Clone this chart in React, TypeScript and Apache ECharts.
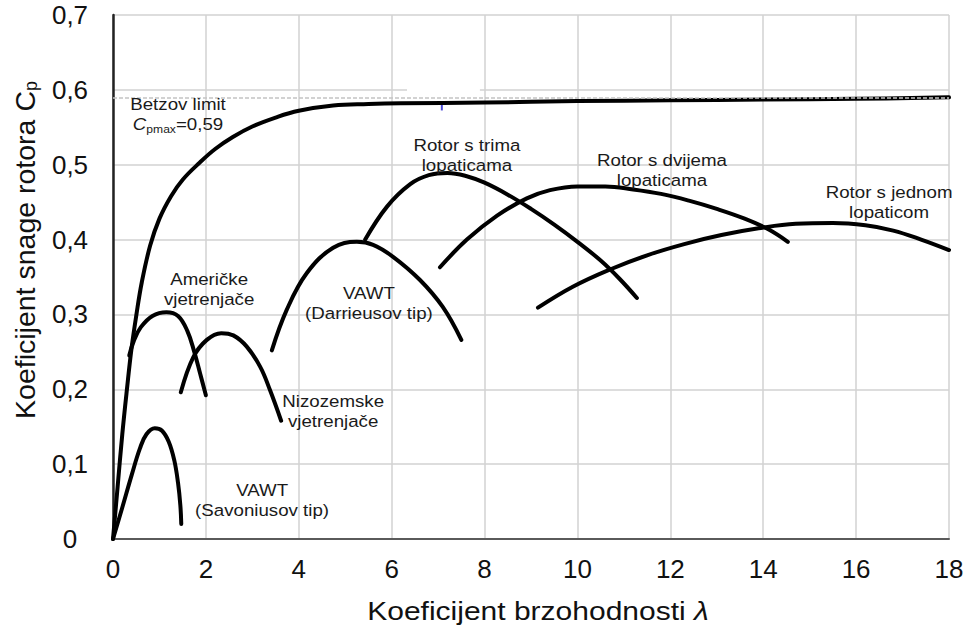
import React, { useEffect, useRef } from "react";
import * as echarts from "echarts";

// ---------- data ----------
const xTickInterval = 2;
const yTickInterval = 0.1;
const betzLimit = 0.593;

const idealRotor: [number, number][] = [
  [0, 0], [0.1, 0.07], [0.2, 0.14], [0.3, 0.2], [0.4, 0.255], [0.5, 0.298], [0.62, 0.343],
  [0.8, 0.392], [1.0, 0.428], [1.25, 0.458], [1.5, 0.48], [1.87, 0.503], [2.2, 0.521],
  [2.58, 0.537], [3.0, 0.551], [3.5, 0.563], [4.0, 0.572], [4.74, 0.579], [5.5, 0.581],
  [6.2, 0.582], [8, 0.583], [10, 0.585], [12, 0.586], [14, 0.587], [16, 0.588], [18, 0.59],
];
const savonius: [number, number][] = [
  [0, 0], [0.2, 0.042], [0.4, 0.085], [0.58, 0.121], [0.72, 0.14], [0.9, 0.148],
  [1.05, 0.145], [1.2, 0.13], [1.32, 0.105], [1.4, 0.075], [1.45, 0.045], [1.47, 0.02],
];
const americke: [number, number][] = [
  [0.35, 0.245], [0.45, 0.265], [0.6, 0.283], [0.85, 0.298], [1.15, 0.303], [1.4, 0.298],
  [1.6, 0.278], [1.75, 0.25], [1.88, 0.22], [2.0, 0.192],
];
const nizozemske: [number, number][] = [
  [1.46, 0.196], [1.73, 0.243], [2.02, 0.266], [2.33, 0.275], [2.59, 0.272], [2.88, 0.257],
  [3.17, 0.23], [3.38, 0.199], [3.62, 0.158],
];
const darrieus: [number, number][] = [
  [3.42, 0.252], [3.74, 0.306], [4.17, 0.355], [4.74, 0.389], [5.25, 0.397], [5.6, 0.393],
  [6.03, 0.377], [6.61, 0.346], [7.1, 0.31], [7.5, 0.266],
];
const triBlade: [number, number][] = [
  [5.43, 0.4], [5.9, 0.444], [6.4, 0.474], [6.8, 0.486], [7.2, 0.489], [7.6, 0.485],
  [8.0, 0.476], [8.5, 0.46], [9.0, 0.441], [9.5, 0.42], [10.0, 0.397], [10.5, 0.372],
  [10.9, 0.348], [11.28, 0.322],
];
const twoBlade: [number, number][] = [
  [7.04, 0.363], [7.62, 0.4], [8.27, 0.432], [8.91, 0.455], [9.41, 0.466], [10.0, 0.471],
  [10.6, 0.471], [11.2, 0.467], [11.8, 0.461], [12.4, 0.452], [13.0, 0.441], [13.6, 0.428],
  [14.1, 0.414], [14.53, 0.397],
];
const oneBlade: [number, number][] = [
  [9.15, 0.309], [9.9, 0.337], [10.7, 0.36], [11.5, 0.379], [12.3, 0.394], [13.1, 0.406],
  [13.9, 0.415], [14.7, 0.421], [15.5, 0.422], [16.2, 0.419], [16.8, 0.412], [17.4, 0.4],
  [18.0, 0.386],
];
// scanning artefacts in the source picture
const maskCorners: [number, number][] = [[6.33, 0.6025], [7.9, 0.5838]];
const blueTick: [number, number][] = [[7.08, 0.5805], [7.08, 0.5725]];

const curveLabels = [
  "Rotor s trima\nlopaticama",
  "Rotor s dvijema\nlopaticama",
  "Rotor s jednom\nlopaticom",
  "Američke\nvjetrenjače",
  "VAWT\n(Darrieusov tip)",
  "Nizozemske\nvjetrenjače",
  "VAWT\n(Savoniusov tip)",
];
const curveLabelAnchors: [number, number][] = [
  [7.62, 0.513], [11.82, 0.493], [16.71, 0.45], [2.07, 0.333], [5.51, 0.315], [4.74, 0.17], [3.21, 0.052],
];
const betzLabel = "Betzov limit\n{i|C}{s|pmax}=0,59";
const betzLabelAnchor: [number, number] = [1.4, 0.567];
const xAxisTitle = "Koeficijent brzohodnosti {l|λ}";
const yAxisTitle = "Koeficijent snage rotora C{s|p}";

const FONT = "Liberation Sans";

export default function App() {
  const ref = useRef<HTMLDivElement>(null);

  useEffect(() => {
    document.body.style.margin = "0";
    const chart = echarts.init(ref.current!, null, { renderer: "svg" });

    const curve = (name: string, data: [number, number][]) => ({
      type: "line",
      name,
      data,
      smooth: 0.4,
      symbol: "none",
      silent: true,
      z: 3,
      lineStyle: { color: "#000", width: 4, cap: "round", join: "round" },
    });

    const splitLine = { show: true, lineStyle: { color: "#d2d2d2", width: 1.5 } };

    chart.setOption({
      animation: false,
      grid: { left: 113, right: 19, top: 15, bottom: 89, containLabel: false },
      xAxis: {
        type: "value",
        min: 0,
        max: 18,
        interval: xTickInterval,
        axisLine: { show: true, onZero: false, lineStyle: { color: "#5a5a5a", width: 2 } },
        axisTick: { show: false },
        axisLabel: { fontSize: 26, color: "#111", margin: 17, fontFamily: FONT },
        splitLine,
      },
      yAxis: {
        type: "value",
        min: 0,
        max: 0.7,
        interval: yTickInterval,
        axisLine: { show: true, onZero: false, lineStyle: { color: "#222", width: 2.5 } },
        axisTick: { show: false },
        axisLabel: {
          fontSize: 26,
          color: "#111",
          margin: 43,
          align: "center",
          fontFamily: FONT,
          formatter: (v: number) => (v === 0 ? "0" : v.toFixed(1).replace(".", ",")),
        },
        splitLine,
      },
      series: [
        {
          type: "line",
          data: [],
          z: 1,
          silent: true,
          markLine: {
            silent: true,
            symbol: ["none", "none"],
            label: { show: false },
            lineStyle: { type: [4, 2], color: "#c4c4c4", width: 1.5 },
            data: [{ yAxis: betzLimit }],
          },
        },
        {
          type: "line",
          data: blueTick,
          symbol: "none",
          silent: true,
          z: 2,
          lineStyle: { color: "#4a4ad8", width: 2 },
          markArea: {
            silent: true,
            label: { show: false },
            itemStyle: { color: "#ffffff", opacity: 1, borderWidth: 0 },
            data: [[{ coord: maskCorners[0] }, { coord: maskCorners[1] }]],
          },
        },
        curve("ideal", idealRotor),
        curve("savonius", savonius),
        curve("americke", americke),
        curve("nizozemske", nizozemske),
        curve("darrieus", darrieus),
        curve("tri", triBlade),
        curve("dvije", twoBlade),
        curve("jedna", oneBlade),
      ],
    });

    const toPx = (p: [number, number]) => chart.convertToPixel({ gridIndex: 0 }, p) as number[];
    const textFill = "#1a1a1a";
    const labelEls: any[] = curveLabels.map((t, i) => {
      const [x, y] = toPx(curveLabelAnchors[i]);
      return {
        type: "text",
        x,
        y,
        scaleX: 1.1,
        silent: true,
        z: 10,
        style: {
          text: t,
          fontSize: 17,
          lineHeight: 20,
          fontFamily: FONT,
          fill: textFill,
          align: "center",
          verticalAlign: "middle",
        },
      };
    });
    const [bx, by] = toPx(betzLabelAnchor);
    labelEls.push({
      type: "text",
      x: bx,
      y: by,
      scaleX: 1.1,
      silent: true,
      z: 10,
      style: {
        text: betzLabel,
        fontSize: 17,
        lineHeight: 20,
        fontFamily: FONT,
        fill: textFill,
        align: "center",
        verticalAlign: "middle",
        rich: {
          i: { fontStyle: "italic", fontSize: 17, fontFamily: FONT, fill: textFill, lineHeight: 20 },
          s: { fontSize: 11, fontFamily: FONT, fill: textFill, verticalAlign: "bottom", lineHeight: 12 },
        },
      },
    });
    labelEls.push({
      type: "text",
      x: 538,
      y: 611,
      scaleX: 1.2,
      silent: true,
      style: {
        text: xAxisTitle,
        fontSize: 25,
        fontFamily: FONT,
        fill: "#111",
        align: "center",
        verticalAlign: "middle",
        rich: { l: { fontStyle: "italic", fontSize: 25, fontFamily: FONT, fill: "#111" } },
      },
    });
    labelEls.push({
      type: "text",
      x: 25,
      y: 250,
      rotation: Math.PI / 2,
      silent: true,
      style: {
        text: yAxisTitle,
        fontSize: 28.5,
        fontFamily: FONT,
        fill: "#111",
        align: "center",
        verticalAlign: "middle",
        rich: { s: { fontSize: 18, fontFamily: FONT, fill: "#111", verticalAlign: "bottom", lineHeight: 19 } },
      },
    });
    chart.setOption({ graphic: labelEls });

    return () => chart.dispose();
  }, []);

  return (
    <div
      ref={ref}
      style={{ position: "absolute", left: 0, top: 0, width: 968, height: 628, background: "#fff" }}
    />
  );
}
